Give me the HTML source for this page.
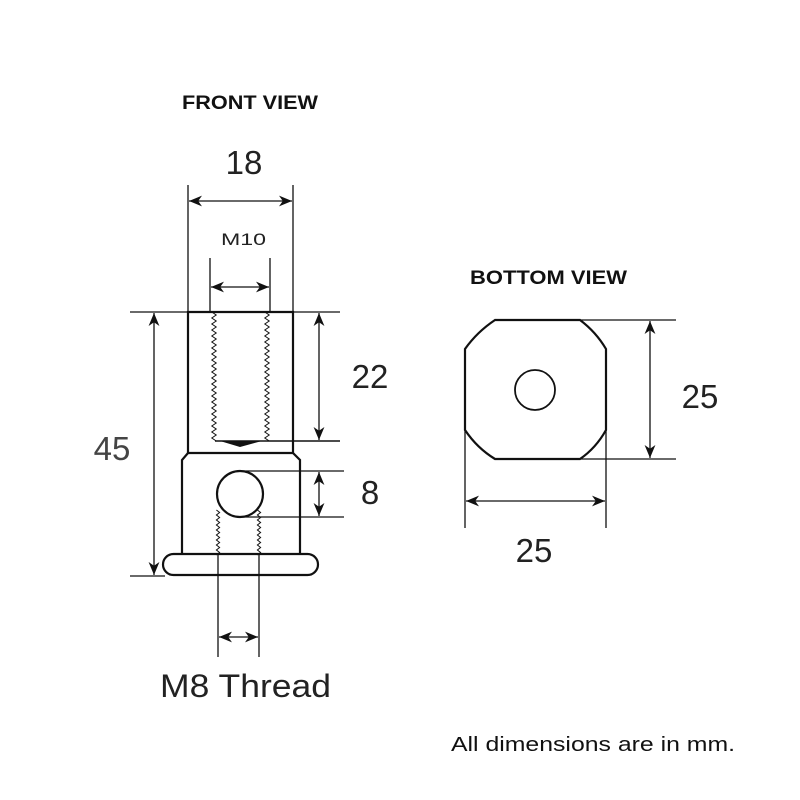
<!DOCTYPE html>
<html><head><meta charset="utf-8"><style>
html,body{margin:0;padding:0;background:#fff;width:800px;height:800px;overflow:hidden}
text{font-family:"Liberation Sans",sans-serif}
</style></head><body>
<svg id="s" width="800" height="800" viewBox="0 0 800 800" xmlns="http://www.w3.org/2000/svg">
<defs>
<marker id="a" viewBox="0 0 12 10" refX="12" refY="5" markerWidth="13" markerHeight="11" markerUnits="userSpaceOnUse" orient="auto-start-reverse">
<path d="M0,0 L12,5 L0,10 L3.5,5 z" fill="#111"/></marker>
</defs>
<rect width="800" height="800" fill="#fff"/>
<g stroke="#111" fill="none">
<path d="M188,312 H293 V453 H188 Z" stroke-width="2.2"/>
<path d="M188,453 L182,460 V555 M293,453 L300,460 V555" stroke-width="2.2"/>
<rect x="163" y="554" width="155" height="21" rx="10.5" stroke-width="2.2"/>
<circle cx="240" cy="494" r="23" stroke-width="2.2"/>
<path d="M215,441 H340" stroke-width="1.4"/>
<path d="M220,441 L240,447 L262,441 Z" fill="#111" stroke="none"/>
<g stroke-width="1.3">
<path d="M188,185 V312 M293,185 V312"/>
<path d="M189,201 H292" marker-start="url(#a)" marker-end="url(#a)"/>
<path d="M210,258 V312 M270,258 V312"/>
<path d="M211,287 H269" marker-start="url(#a)" marker-end="url(#a)"/>
<path d="M130,312 H340 M130,576 H165"/>
<path d="M154,313 V575" marker-start="url(#a)" marker-end="url(#a)"/>
<path d="M319,313 V440" marker-start="url(#a)" marker-end="url(#a)"/>
<path d="M240,471 H344 M240,517 H344"/>
<path d="M319,472 V516" marker-start="url(#a)" marker-end="url(#a)"/>
<path d="M218,555 V657 M259,555 V657"/>
<path d="M219,637 H258" marker-start="url(#a)" marker-end="url(#a)"/>
<path d="M580,320 H676 M580,459 H676"/>
<path d="M650,321 V458" marker-start="url(#a)" marker-end="url(#a)"/>
<path d="M465,430 V528 M606,430 V528"/>
<path d="M466,501 H605" marker-start="url(#a)" marker-end="url(#a)"/>
</g>
<path d="M495,320 H580 Q596,332 606,349 V430 Q596,448 580,459 H495 Q477,448 465,430 V349 Q477,332 495,320 Z" stroke-width="2.2"/>
<circle cx="535" cy="390" r="20" stroke-width="1.8"/>
<g id="th" stroke-width="1"></g>
</g>
<g fill="#111">
<text x="182" y="109" font-size="19" font-weight="bold" textLength="136" lengthAdjust="spacingAndGlyphs">FRONT VIEW</text>
<text x="244" y="174" font-size="33" text-anchor="middle" fill="#222">18</text>
<text x="221" y="245" font-size="17" textLength="45" lengthAdjust="spacingAndGlyphs" fill="#222">M10</text>
<text x="370" y="388" font-size="33" text-anchor="middle" fill="#222">22</text>
<text x="112" y="460" font-size="33" text-anchor="middle" fill="#444">45</text>
<text x="370" y="504" font-size="33" text-anchor="middle" fill="#222">8</text>
<text x="160" y="697" font-size="32" textLength="171" lengthAdjust="spacingAndGlyphs" fill="#222">M8 Thread</text>
<text x="470" y="284" font-size="19" font-weight="bold" textLength="157" lengthAdjust="spacingAndGlyphs">BOTTOM VIEW</text>
<text x="700" y="408" font-size="33" text-anchor="middle" fill="#222">25</text>
<text x="534" y="562" font-size="33" text-anchor="middle" fill="#222">25</text>
<text x="451" y="751" font-size="20" textLength="284" lengthAdjust="spacingAndGlyphs">All dimensions are in mm.</text>
</g>
</svg>
<script>
var g=document.getElementById('th');
function zz(x,y0,y1,amp,step){var p=[];var k=0;for(var y=y0;y<=y1;y+=step/2){p.push((x+(k%2?amp:-amp))+','+y);k++;}
var e=document.createElementNS('http://www.w3.org/2000/svg','polyline');e.setAttribute('points',p.join(' '));g.appendChild(e);}
zz(214,312,441,2.2,6);zz(267,312,441,2.2,6);zz(218,510,555,1.6,5);zz(259,510,555,1.6,5);
</script>
</body></html>
